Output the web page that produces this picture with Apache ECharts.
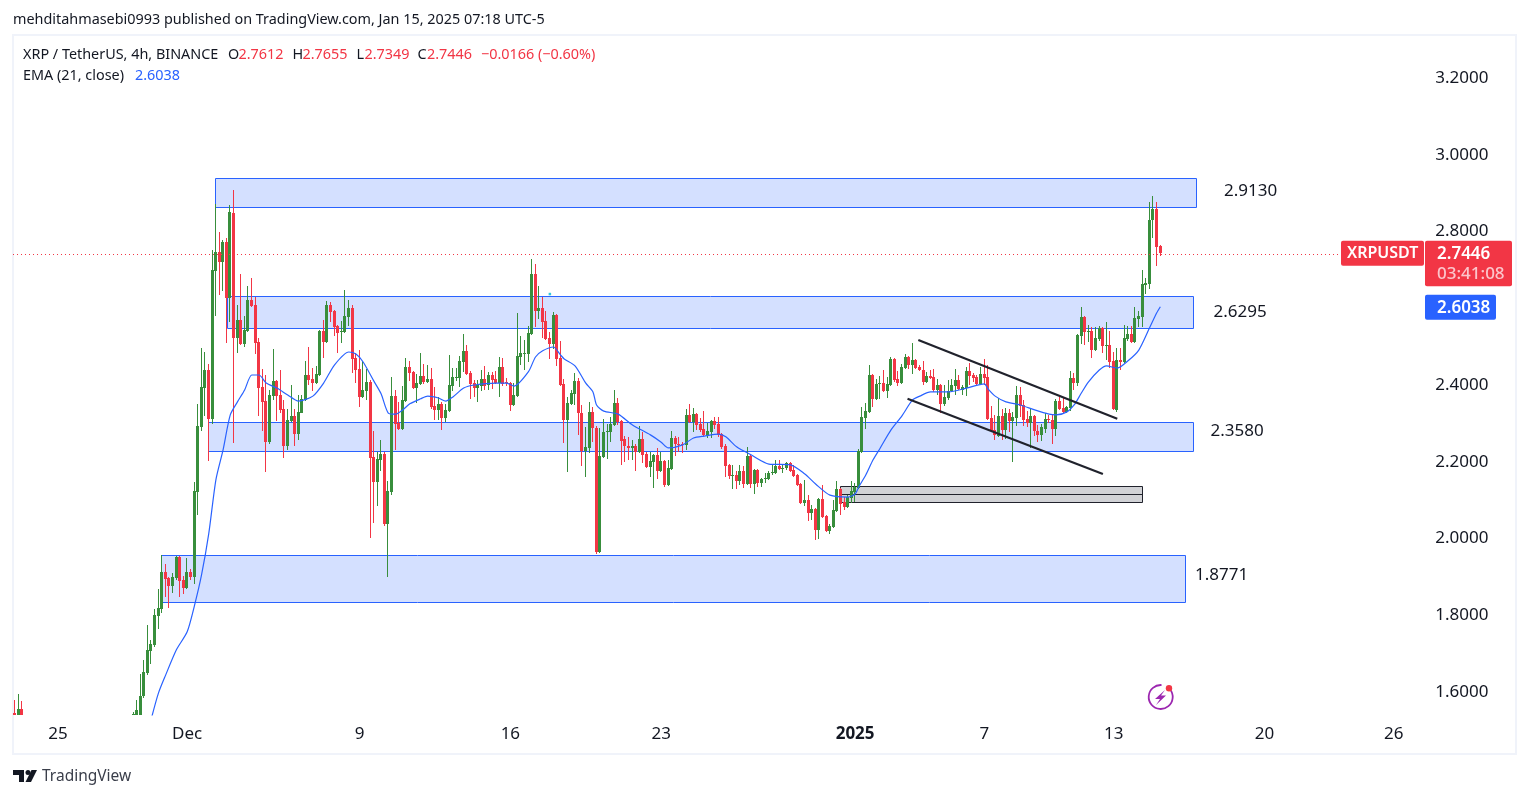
<!DOCTYPE html>
<html>
<head>
<meta charset="utf-8">
<title>XRPUSDT 4h</title>
<script src="https://cdn.jsdelivr.net/npm/echarts@6/dist/echarts.min.js"></script>
<style>
html, body { margin: 0; padding: 0; background: #fff; }
#chart { width: 1529px; height: 798px; }
</style>
</head>
<body>
<div id="chart"></div>
<script>
// 4h candles, one category per candle, Nov 23 00:00 is index 0
const candleCount = 393
const firstDay = Date.UTC(2024, 10, 23)

// date ticks
const tickIndex = [12, 48, 96, 138, 180, 234, 270, 306, 348, 384]
const tickLabels = ["25", "Dec", "9", "16", "23", "2025", "7", "13", "20", "26"]
const priceTicks = [3.2, 3.0, 2.8, 2.6, 2.4, 2.2, 2.0, 1.8, 1.6]

// [open, close, low, high] - first three sit at the left edge, the rest start at firstCandle
// anything below the bottom of the scale is cut at 1.541
const earlyCandles = [
    [1.545,1.541,1.541,1.579],[1.541,1.556,1.541,1.595],[1.556,1.541,1.541,1.577]
]
const firstCandle = 33
const candles = [
    [1.541,1.543,1.541,1.549],[1.541,1.554,1.541,1.58],[1.541,1.59,1.541,1.647],[1.589,1.652,1.585,1.684],
    [1.65,1.71,1.644,1.775],[1.708,1.725,1.673,1.736],[1.723,1.801,1.718,1.817],[1.799,1.819,1.765,1.869],
    [1.816,1.913,1.806,1.957],[1.913,1.895,1.848,1.934],[1.897,1.876,1.819,1.899],[1.876,1.899,1.858,1.91],
    [1.897,1.952,1.892,1.954],[1.952,1.89,1.848,1.954],[1.892,1.871,1.855,1.902],[1.871,1.913,1.868,1.949],
    [1.913,1.899,1.892,1.921],[1.899,2.124,1.881,2.147],[2.121,2.293,2.061,2.35],[2.29,2.395,2.28,2.496],
    [2.392,2.439,2.319,2.486],[2.439,2.311,2.202,2.455],[2.311,2.7,2.298,2.752],[2.697,2.747,2.58,2.872],
    [2.747,2.721,2.635,2.799],[2.721,2.773,2.645,2.778],[2.773,2.627,2.51,2.783],[2.627,2.851,2.564,2.869],
    [2.848,2.523,2.249,2.908],[2.523,2.569,2.483,2.608],[2.569,2.507,2.504,2.689],[2.507,2.543,2.499,2.58],
    [2.541,2.622,2.538,2.658],[2.622,2.606,2.603,2.679],[2.608,2.51,2.481,2.629],[2.512,2.392,2.319,2.523],
    [2.395,2.356,2.28,2.442],[2.358,2.251,2.174,2.426],[2.251,2.374,2.246,2.387],[2.371,2.41,2.361,2.494],
    [2.41,2.371,2.306,2.413],[2.374,2.335,2.327,2.439],[2.337,2.241,2.21,2.361],[2.241,2.309,2.23,2.337],
    [2.306,2.319,2.304,2.4],[2.319,2.272,2.241,2.337],[2.272,2.33,2.257,2.374],[2.327,2.364,2.327,2.374],
    [2.361,2.426,2.358,2.463],[2.426,2.413,2.4,2.499],[2.416,2.405,2.384,2.444],[2.405,2.429,2.403,2.45],
    [2.426,2.541,2.424,2.543],[2.541,2.512,2.47,2.569],[2.512,2.608,2.51,2.619],[2.608,2.59,2.564,2.616],
    [2.593,2.551,2.528,2.595],[2.554,2.536,2.483,2.556],[2.538,2.541,2.51,2.567],[2.538,2.58,2.536,2.648],
    [2.577,2.601,2.554,2.622],[2.601,2.468,2.431,2.608],[2.47,2.439,2.405,2.483],[2.442,2.369,2.343,2.491],
    [2.369,2.387,2.366,2.463],[2.384,2.408,2.361,2.442],[2.408,2.21,2.001,2.413],[2.213,2.147,2.04,2.28],
    [2.147,2.207,2.085,2.225],[2.205,2.22,2.176,2.257],[2.22,2.038,2.033,2.225],[2.038,2.124,1.899,2.15],
    [2.121,2.371,2.113,2.421],[2.371,2.298,2.231,2.387],[2.301,2.285,2.283,2.356],[2.285,2.361,2.283,2.397],
    [2.358,2.447,2.356,2.47],[2.447,2.431,2.41,2.463],[2.434,2.392,2.39,2.437],[2.392,2.405,2.353,2.429],
    [2.403,2.424,2.4,2.483],[2.424,2.408,2.403,2.455],[2.408,2.416,2.405,2.452],[2.416,2.343,2.338,2.444],
    [2.345,2.335,2.309,2.395],[2.335,2.351,2.309,2.369],[2.351,2.314,2.283,2.356],[2.314,2.335,2.304,2.351],
    [2.332,2.4,2.33,2.478],[2.397,2.421,2.384,2.444],[2.418,2.421,2.41,2.444],[2.418,2.463,2.395,2.476],
    [2.46,2.489,2.434,2.533],[2.489,2.429,2.426,2.504],[2.431,2.403,2.364,2.437],[2.405,2.392,2.369,2.413],
    [2.392,2.4,2.356,2.413],[2.397,2.416,2.384,2.439],[2.416,2.397,2.387,2.45],[2.4,2.426,2.387,2.434],
    [2.426,2.413,2.39,2.434],[2.416,2.405,2.403,2.437],[2.405,2.447,2.369,2.473],[2.447,2.403,2.397,2.47],
    [2.408,2.405,2.397,2.418],[2.405,2.348,2.332,2.408],[2.348,2.374,2.345,2.405],[2.371,2.476,2.369,2.588],
    [2.473,2.483,2.452,2.528],[2.481,2.483,2.439,2.517],[2.481,2.536,2.46,2.554],[2.533,2.689,2.53,2.728],
    [2.689,2.593,2.551,2.715],[2.593,2.601,2.572,2.658],[2.601,2.564,2.523,2.629],[2.567,2.52,2.517,2.593],
    [2.523,2.507,2.468,2.538],[2.507,2.582,2.494,2.59],[2.582,2.468,2.45,2.585],[2.47,2.4,2.397,2.515],
    [2.403,2.309,2.249,2.416],[2.309,2.353,2.174,2.369],[2.351,2.379,2.348,2.387],[2.377,2.41,2.348,2.431],
    [2.41,2.327,2.27,2.418],[2.327,2.228,2.189,2.348],[2.228,2.239,2.16,2.291],[2.236,2.33,2.223,2.356],
    [2.33,2.288,2.251,2.343],[2.288,1.965,1.96,2.293],[1.965,2.215,1.962,2.288],[2.212,2.278,2.21,2.311],
    [2.278,2.28,2.207,2.298],[2.278,2.298,2.251,2.317],[2.296,2.353,2.293,2.387],[2.353,2.304,2.296,2.366],
    [2.306,2.254,2.192,2.309],[2.259,2.241,2.2,2.267],[2.241,2.236,2.205,2.265],[2.236,2.241,2.205,2.257],
    [2.241,2.225,2.176,2.246],[2.225,2.259,2.223,2.293],[2.259,2.218,2.197,2.278],[2.22,2.187,2.184,2.225],
    [2.187,2.202,2.16,2.225],[2.2,2.218,2.131,2.22],[2.218,2.176,2.155,2.236],[2.176,2.202,2.174,2.225],
    [2.202,2.139,2.134,2.205],[2.139,2.184,2.137,2.205],[2.181,2.262,2.179,2.28],[2.262,2.246,2.215,2.267],
    [2.246,2.244,2.225,2.265],[2.246,2.244,2.223,2.251],[2.244,2.322,2.231,2.338],[2.322,2.304,2.301,2.351],
    [2.304,2.325,2.278,2.34],[2.325,2.296,2.283,2.327],[2.298,2.283,2.278,2.314],[2.285,2.27,2.267,2.332],
    [2.267,2.28,2.262,2.301],[2.278,2.306,2.262,2.309],[2.306,2.296,2.285,2.317],[2.298,2.27,2.265,2.317],
    [2.272,2.239,2.233,2.275],[2.241,2.189,2.16,2.246],[2.192,2.163,2.155,2.194],[2.163,2.166,2.129,2.192],
    [2.166,2.15,2.129,2.176],[2.15,2.176,2.139,2.192],[2.176,2.142,2.131,2.189],[2.142,2.215,2.139,2.239],
    [2.215,2.142,2.131,2.218],[2.142,2.179,2.116,2.181],[2.179,2.145,2.134,2.181],[2.145,2.155,2.134,2.158],
    [2.155,2.158,2.145,2.171],[2.155,2.171,2.153,2.176],[2.171,2.174,2.166,2.195],[2.171,2.189,2.168,2.205],
    [2.189,2.181,2.179,2.205],[2.181,2.184,2.171,2.192],[2.184,2.197,2.179,2.2],[2.197,2.176,2.174,2.2],
    [2.179,2.163,2.16,2.192],[2.166,2.139,2.137,2.168],[2.142,2.093,2.09,2.145],[2.093,2.1,2.085,2.153],
    [2.1,2.067,2.046,2.113],[2.067,2.077,2.048,2.087],[2.077,2.022,1.996,2.08],[2.022,2.103,1.999,2.105],
    [2.103,2.056,2.054,2.139],[2.059,2.02,2.017,2.061],[2.02,2.033,2.012,2.038],[2.03,2.074,2.027,2.1],
    [2.072,2.129,2.069,2.15],[2.129,2.09,2.061,2.132],[2.095,2.082,2.074,2.108],[2.082,2.108,2.08,2.113],
    [2.105,2.124,2.093,2.15],[2.121,2.134,2.095,2.145],[2.132,2.228,2.129,2.233],[2.225,2.317,2.223,2.343],
    [2.314,2.332,2.285,2.353],[2.33,2.426,2.327,2.452],[2.426,2.364,2.343,2.429],[2.364,2.403,2.361,2.416],
    [2.403,2.405,2.364,2.424],[2.405,2.384,2.382,2.439],[2.384,2.403,2.366,2.421],[2.4,2.468,2.397,2.473],
    [2.468,2.413,2.408,2.47],[2.416,2.405,2.397,2.437],[2.405,2.447,2.403,2.455],[2.444,2.473,2.442,2.481],
    [2.473,2.452,2.442,2.476],[2.452,2.465,2.429,2.51],[2.465,2.444,2.442,2.468],[2.447,2.439,2.436,2.452],
    [2.439,2.408,2.4,2.463],[2.408,2.424,2.405,2.434],[2.424,2.418,2.416,2.439],[2.421,2.387,2.382,2.442],
    [2.387,2.4,2.374,2.416],[2.4,2.351,2.327,2.403],[2.351,2.369,2.345,2.4],[2.366,2.384,2.361,2.413],
    [2.384,2.4,2.382,2.416],[2.397,2.413,2.374,2.442],[2.413,2.39,2.387,2.426],[2.387,2.395,2.374,2.4],
    [2.392,2.437,2.371,2.447],[2.437,2.424,2.4,2.458],[2.426,2.418,2.408,2.431],[2.421,2.403,2.397,2.426],
    [2.403,2.429,2.4,2.447],[2.429,2.418,2.4,2.468],[2.421,2.311,2.309,2.452],[2.314,2.28,2.278,2.345],
    [2.283,2.27,2.257,2.322],[2.267,2.319,2.265,2.366],[2.319,2.283,2.257,2.338],[2.283,2.327,2.259,2.34],
    [2.327,2.306,2.278,2.338],[2.306,2.317,2.2,2.33],[2.314,2.374,2.293,2.397],[2.374,2.345,2.317,2.395],
    [2.348,2.309,2.293,2.361],[2.311,2.301,2.291,2.332],[2.301,2.319,2.236,2.338],[2.319,2.28,2.267,2.322],
    [2.28,2.27,2.251,2.296],[2.27,2.291,2.254,2.298],[2.285,2.311,2.275,2.327],[2.311,2.309,2.301,2.322],
    [2.309,2.285,2.246,2.322],[2.285,2.358,2.267,2.364],[2.358,2.338,2.335,2.369],[2.34,2.33,2.327,2.366],
    [2.33,2.343,2.327,2.345],[2.34,2.418,2.332,2.437],[2.418,2.405,2.387,2.431],[2.405,2.53,2.397,2.533],
    [2.528,2.577,2.507,2.603],[2.577,2.538,2.504,2.58],[2.538,2.541,2.512,2.556],[2.541,2.491,2.47,2.551],
    [2.491,2.523,2.489,2.551],[2.52,2.549,2.515,2.554],[2.549,2.502,2.483,2.551],[2.502,2.504,2.465,2.564],
    [2.504,2.46,2.444,2.541],[2.463,2.338,2.335,2.486],[2.335,2.465,2.33,2.496],[2.465,2.46,2.439,2.496],
    [2.46,2.523,2.458,2.556],[2.52,2.533,2.515,2.554],[2.533,2.512,2.51,2.554],[2.512,2.575,2.51,2.603],
    [2.572,2.58,2.551,2.593],[2.577,2.663,2.551,2.7],[2.661,2.666,2.637,2.679],[2.663,2.83,2.65,2.877],
    [2.83,2.859,2.783,2.893],[2.859,2.76,2.71,2.877],[2.7612,2.7446,2.7349,2.7655]
]

// EMA 21 at these candle indexes
const emaIndex = [38,40,42,45,48,50,52,54,56,58,60,62,64,66,68,70,73,76,79,83,86,89,93,95,97,100,102,104,106,108,110,113,115,118,120,122,125,128,134,137,139,143,145,147,150,152,153,156,159,161,162,164,168,172,177,180,182,186,189,192,196,198,201,205,210,216,220,223,227,232,234,235,237,239,241,244,247,250,252,255,260,265,270,271,273,276,280,284,288,290,293,295,297,299,302,304,307,310,313,316,318,319]
const emaValues = [1.53,1.597,1.644,1.71,1.757,1.824,1.905,2.012,2.153,2.231,2.322,2.356,2.387,2.426,2.426,2.405,2.392,2.374,2.358,2.371,2.405,2.452,2.486,2.481,2.46,2.41,2.377,2.327,2.324,2.335,2.351,2.364,2.371,2.366,2.358,2.369,2.392,2.4,2.405,2.405,2.397,2.434,2.473,2.489,2.499,2.478,2.468,2.45,2.405,2.382,2.348,2.332,2.324,2.296,2.27,2.251,2.236,2.244,2.262,2.267,2.272,2.265,2.239,2.218,2.194,2.192,2.168,2.142,2.113,2.108,2.116,2.134,2.166,2.205,2.236,2.283,2.319,2.361,2.371,2.382,2.382,2.392,2.403,2.39,2.371,2.356,2.348,2.335,2.324,2.322,2.33,2.348,2.379,2.408,2.439,2.45,2.444,2.463,2.491,2.549,2.588,2.6038]

// drawn zones, candle index can be fractional
const zoneStart = [55.9, 59.1, 53.8, 40.8]
const zoneEnd = [329.07, 328.1, 328.1, 326]
const zoneTop = [2.938, 2.632, 2.303, 1.956]
const zoneBottom = [2.8625, 2.547, 2.227, 1.834]
const zoneLabels = ["2.9130", "2.6295", "2.3580", "1.8771"]
const greyZone = { start: 229.8, end: 314, top: 2.136, bottom: 2.094 }

// [start index, start price, end index, end price]
const trendLines = [
    [251.6, 2.517, 307, 2.312],
    [248.6, 2.364, 303, 2.168]
]

const lastClose = 2.7446
const lastEma = 2.6038
const blueDot = [149, 2.637]

const UP = "#388e3c"
const DOWN = "#f23645"
const BLUE = "#2962ff"
const TEXT = "#131722"
const FONT = "'Noto Sans', sans-serif"

const categories = []
for (let i = 0; i < candleCount; i++) {
    categories.push(new Date(firstDay + i * 4 * 3600 * 1000).toISOString().slice(0, 16))
}

// [candle index, open, close, low, high]
const candleData = earlyCandles.map((c, i) => [i, ...c])
    .concat(candles.map((c, i) => [firstCandle + i, ...c]))

// x pixel of a fractional candle index
function xAt(api, idx) {
    const whole = Math.floor(idx)
    return api.coord([whole, 0])[0] + (idx - whole) * api.size([1, 0])[0]
}

// keep 1px strokes on a pixel row
function crisp(v) {
    return Math.floor(v + 0.2) + 0.5
}

// built-in candlestick rounds each body differently, so draw 3px body + 1px wick here
function renderCandle(params, api) {
    const idx = api.value(0)
    const open = api.value(1)
    const close = api.value(2)
    const cx = Math.floor(api.coord([idx, open])[0] - 0.3)
    const yOf = (v) => Math.round(api.coord([idx, v])[1])
    const top = yOf(Math.max(open, close))
    const bottom = yOf(Math.min(open, close))
    const high = yOf(api.value(4))
    const low = yOf(api.value(3))
    const fill = close >= open ? UP : DOWN
    return {
        type: "group",
        children: [
            { type: "rect", shape: { x: cx, y: high, width: 1, height: Math.max(1, low - high) }, style: { fill: fill } },
            { type: "rect", shape: { x: cx - 1, y: top, width: 3, height: Math.max(1, bottom - top) }, style: { fill: fill } }
        ]
    }
}

const option = {
    animation: false,
    backgroundColor: "#ffffff",
    textStyle: { fontFamily: FONT },
    grid: { left: 13, top: 36, width: 1411.3, height: 679 },
    xAxis: {
        type: "category",
        data: categories,
        axisLine: { show: false },
        axisTick: { show: false },
        splitLine: { show: false },
        axisLabel: {
            margin: 11,
            fontSize: 17,
            color: TEXT,
            interval: (idx) => tickIndex.includes(idx),
            formatter: (val, idx) => {
                const label = tickLabels[tickIndex.indexOf(idx)]
                return label === "2025" ? "{bold|2025}" : label
            },
            rich: { bold: { fontSize: 17, fontWeight: "bold", color: TEXT, fontFamily: FONT } }
        }
    },
    yAxis: {
        type: "value",
        position: "right",
        min: 1.5401,
        max: 3.3094,
        axisLine: { show: false },
        axisTick: { show: false },
        splitLine: { show: false },
        axisLabel: {
            margin: 11,
            fontSize: 17,
            color: TEXT,
            padding: [3, 0, 0, 0],
            customValues: priceTicks,
            formatter: (v) => v.toFixed(4)
        }
    },
    series: [
        {
            type: "custom",
            z: 1,
            clip: true,
            data: zoneTop.map((t, k) => [k, t]),
            renderItem(params, api) {
                const k = params.dataIndex
                const x1 = crisp(xAt(api, zoneStart[k]))
                const x2 = crisp(xAt(api, zoneEnd[k]))
                const y1 = crisp(api.coord([0, zoneTop[k]])[1])
                const y2 = crisp(api.coord([0, zoneBottom[k]])[1])
                const labelDx = [27.5, 20, 17, 9.5][k]
                const labelY = [191, 312, 431, 575][k]
                return {
                    type: "group",
                    children: [
                        {
                            type: "rect",
                            shape: { x: x1, y: y1, width: x2 - x1, height: y2 - y1 },
                            style: { fill: "rgba(41,98,255,0.2)", stroke: BLUE, lineWidth: 1 }
                        },
                        {
                            type: "text",
                            style: {
                                text: zoneLabels[k],
                                x: x2 + labelDx,
                                y: labelY,
                                fill: TEXT,
                                font: "17px " + FONT,
                                textVerticalAlign: "middle"
                            }
                        }
                    ]
                }
            }
        },
        {
            type: "custom",
            z: 1,
            clip: true,
            data: [[0, greyZone.top]],
            renderItem(params, api) {
                const x1 = crisp(xAt(api, greyZone.start))
                const x2 = crisp(xAt(api, greyZone.end))
                const y1 = crisp(api.coord([0, greyZone.top])[1])
                const y2 = crisp(api.coord([0, greyZone.bottom])[1])
                const mid = crisp((y1 + y2) / 2)
                return {
                    type: "group",
                    children: [
                        {
                            type: "rect",
                            shape: { x: x1, y: y1, width: x2 - x1, height: y2 - y1 },
                            style: { fill: "#d1d2d6", stroke: "#20222c", lineWidth: 1 }
                        },
                        {
                            type: "line",
                            shape: { x1: x1, y1: mid, x2: x2, y2: mid },
                            style: { stroke: "#20222c", lineWidth: 1 }
                        }
                    ]
                }
            }
        },
        {
            name: "XRPUSDT",
            type: "custom",
            z: 2,
            clip: true,
            data: candleData,
            encode: { x: 0, y: [1, 2, 3, 4] },
            renderItem: renderCandle,
            markLine: {
                silent: true,
                symbol: "none",
                label: { show: false },
                lineStyle: { color: DOWN, type: [1, 3], width: 1 },
                data: [{ yAxis: lastClose }]
            }
        },
        {
            name: "EMA",
            type: "line",
            z: 3,
            smooth: 0.25,
            showSymbol: false,
            data: emaIndex.map((idx, k) => [idx, emaValues[k]]),
            lineStyle: { color: BLUE, width: 1.2 }
        },
        {
            type: "custom",
            z: 4,
            clip: true,
            data: trendLines.map((t, k) => [k, t[1]]),
            renderItem(params, api) {
                const t = trendLines[params.dataIndex]
                return {
                    type: "line",
                    shape: {
                        x1: xAt(api, t[0]),
                        y1: api.coord([0, t[1]])[1],
                        x2: xAt(api, t[2]),
                        y2: api.coord([0, t[3]])[1]
                    },
                    style: { stroke: "#20222c", lineWidth: 2.2 }
                }
            }
        },
        {
            type: "scatter",
            z: 4,
            symbol: "rect",
            symbolSize: 2.5,
            data: [blueDot],
            itemStyle: { color: "#00bcd4" }
        }
    ]
}

const chart = echarts.init(document.getElementById("chart"), null, { renderer: "canvas" })
chart.setOption(option)

// header, price tags, frame and logo around the plot
function label(text, x, y, fill, size, weight) {
    return {
        type: "text",
        z: 20,
        style: {
            text: text,
            x: x,
            y: y,
            fill: fill,
            font: (weight || "normal") + " " + size + "px " + FONT,
            textVerticalAlign: "middle"
        }
    }
}

const closeY = chart.convertToPixel({ yAxisIndex: 0 }, lastClose)
const emaY = chart.convertToPixel({ yAxisIndex: 0 }, lastEma)
const HEAD = 14.4

chart.setOption({
    graphic: [
        { type: "rect", z: 0, shape: { x: 13, y: 35, width: 1503, height: 719 }, style: { fill: "none", stroke: "#f0f3fa", lineWidth: 2 } },
        label("mehditahmasebi0993 published on TradingView.com, Jan 15, 2025 07:18 UTC-5", 13, 19.5, TEXT, HEAD),
        label("XRP / TetherUS, 4h, BINANCE", 23, 54.5, TEXT, HEAD),
        label("O", 228, 54.5, TEXT, HEAD),
        label("2.7612", 238.5, 54.5, DOWN, HEAD),
        label("H", 292.5, 54.5, TEXT, HEAD),
        label("2.7655", 302.5, 54.5, DOWN, HEAD),
        label("L", 356.5, 54.5, TEXT, HEAD),
        label("2.7349", 364.5, 54.5, DOWN, HEAD),
        label("C", 417.5, 54.5, TEXT, HEAD),
        label("2.7446", 427, 54.5, DOWN, HEAD),
        label("\u22120.0166 (\u22120.60%)", 481, 54.5, DOWN, HEAD),
        label("EMA (21, close)", 23, 75.5, TEXT, HEAD),
        label("2.6038", 135, 75.5, BLUE, HEAD),

        { type: "rect", z: 15, shape: { x: 1341, y: closeY - 12, width: 83, height: 25, r: 2 }, style: { fill: DOWN } },
        label("XRPUSDT", 1347, closeY + 1, "#ffffff", 16, "600"),
        { type: "rect", z: 15, shape: { x: 1425, y: closeY - 12, width: 87, height: 45.5, r: 2 }, style: { fill: DOWN } },
        label(lastClose.toFixed(4), 1437, closeY + 1.5, "#ffffff", 17, "600"),
        label("03:41:08", 1437, closeY + 21.5, "#fbc5cb", 17, "500"),
        { type: "rect", z: 15, shape: { x: 1425, y: emaY - 12, width: 71, height: 25, r: 2 }, style: { fill: BLUE } },
        label(lastEma.toFixed(4), 1437, emaY + 1.5, "#ffffff", 17, "600"),

        // TradingView mark
        { type: "polygon", z: 20, shape: { points: [[13, 770], [24, 770], [24, 782], [19, 782], [19, 775], [13, 775]] }, style: { fill: TEXT } },
        { type: "polygon", z: 20, shape: { points: [[37, 770], [31, 782], [25.5, 782], [31.5, 770]] }, style: { fill: TEXT } },
        { type: "circle", z: 20, shape: { cx: 28, cy: 772.5, r: 2.5 }, style: { fill: TEXT } },
        label("TradingView", 42, 776.5, "#3a3e4a", 15.5),

        // lightning badge
        { type: "arc", z: 20, shape: { cx: 1160.7, cy: 697, r: 12, startAngle: -0.7, endAngle: Math.PI * 2 - 1.5, clockwise: true }, style: { fill: "none", stroke: "#9c27b0", lineWidth: 1.8 } },
        { type: "polygon", z: 20, shape: { points: [[1165, 690], [1155, 699], [1160, 699], [1156, 705], [1166, 695.5], [1161, 695.5]] }, style: { fill: "#9c27b0" } },
        { type: "circle", z: 21, shape: { cx: 1169, cy: 688.3, r: 3.2 }, style: { fill: DOWN } }
    ]
})
</script>
</body>
</html>
